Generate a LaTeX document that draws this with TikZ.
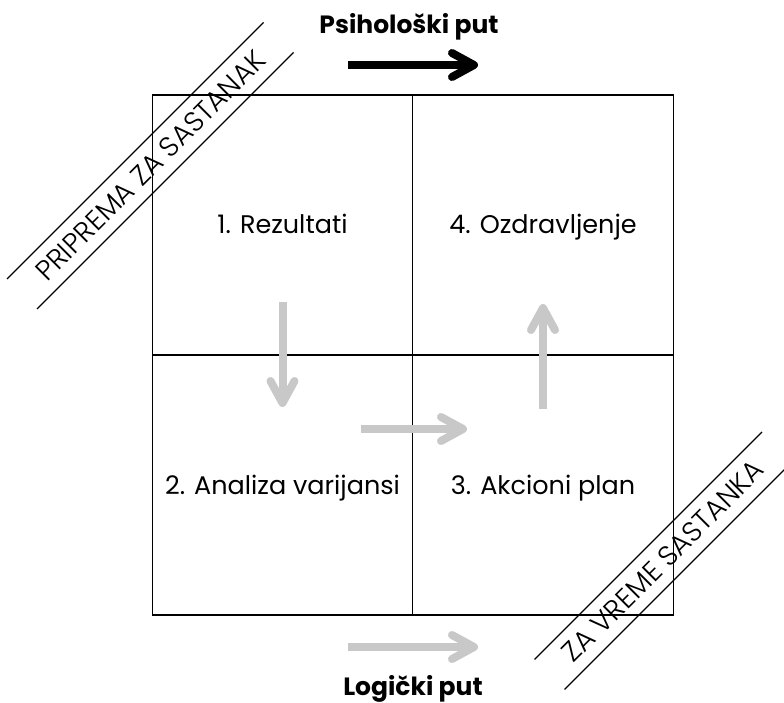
\documentclass[tikz,border=0pt]{standalone}
\usepackage{fontspec}
\setmainfont{Poppins}
\newfontfamily\lightfont{Poppins Light}
\usetikzlibrary{arrows.meta}
\definecolor{arrowgray}{HTML}{C8C8C8}
\begin{document}
\begin{tikzpicture}[x=1pt,y=-1pt,
  cell/.style={draw=black,line width=1.4pt,minimum width=260.5pt,minimum height=260pt,inner sep=0pt,text height=18pt,text depth=0pt,font=\fontsize{25.5}{30}\selectfont},
  title/.style={font=\fontsize{25}{30}\selectfont\bfseries},
  diag/.style={font=\lightfont\fontsize{28}{32}\selectfont,rotate=45,inner sep=0pt},
  band/.style={line width=1.2pt},
  grayarrow/.style={draw=arrowgray,line width=8pt,-{Straight Barb[length=22pt,width=24pt,round]}},
  blackarrow/.style={draw=black,line width=8pt,-{Straight Barb[length=22pt,width=24pt,round]}}]
\clip (0,0) rectangle (784,703);
\useasboundingbox (0,0) rectangle (784,703);
% cells
\node[cell] (c1) at (282.5,225) {1. Rezultati};
\node[cell] (c4) at (543,225) {4. Ozdravljenje};
\node[cell] (c2) at (282.5,485) {2. Analiza varijansi};
\node[cell] (c3) at (543,485) {3. Akcioni plan};
% titles
\node[title] (psi) at (409,27) {Psihološki put};
\node[title] (log) at (413,689) {Logički put};
% arrow coordinates
\coordinate (pa) at (348,65); \coordinate (pb) at (478,65);
\coordinate (la) at (348,647); \coordinate (lb) at (478,647);
\coordinate (da) at (282.5,302); \coordinate (db) at (282.5,407);
\coordinate (ra) at (361,429); \coordinate (rb) at (467,429);
\coordinate (ua) at (543,409); \coordinate (ub) at (543,304);
\draw[blackarrow] (pa) -- (pb);
\draw[grayarrow] (la) -- (lb);
\draw[grayarrow] (da) -- (db);
\draw[grayarrow] (ra) -- (rb);
\draw[grayarrow] (ua) -- (ub);
% diagonal bands
\coordinate (t1a) at (7,279); \coordinate (t1b) at (263.5,22.5);
\coordinate (t2a) at (37,309); \coordinate (t2b) at (293.5,52.5);
\coordinate (b1a) at (534.5,659.5); \coordinate (b1b) at (762,432);
\coordinate (b2a) at (564.5,689.5); \coordinate (b2b) at (792,462);
\draw[band] (t1a) -- (t1b);
\draw[band] (t2a) -- (t2b);
\draw[band] (b1a) -- (b1b);
\draw[band] (b2a) -- (b2b);
\node[diag] (prep) at (150.25,165.75) {PRIPREMA ZA SASTANAK};
\node[diag] (vreme) at (663,561) {ZA VREME SASTANKA};
\end{tikzpicture}
\end{document}
